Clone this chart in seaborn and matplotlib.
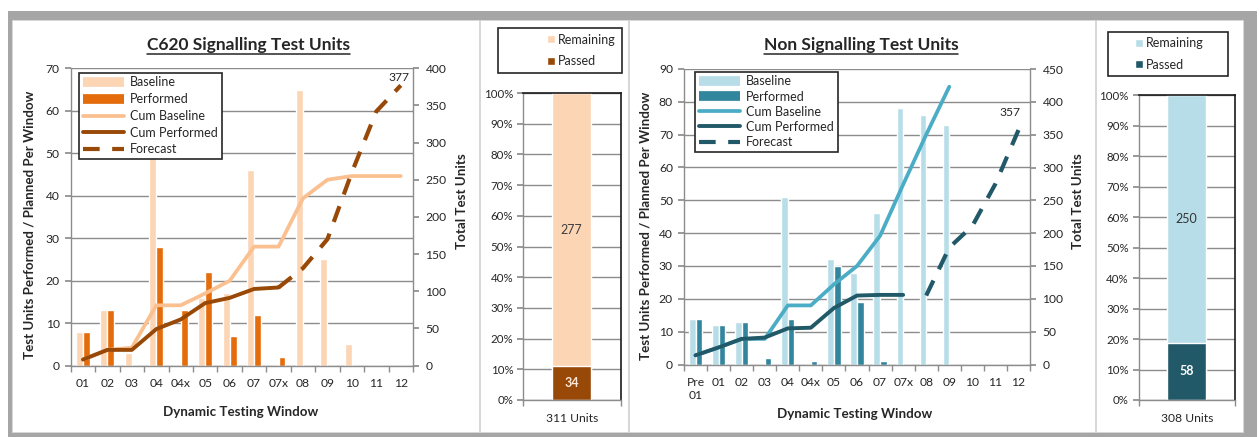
import numpy as np
import pandas as pd
import matplotlib
matplotlib.use("Agg")
import matplotlib.pyplot as plt
import seaborn as sns
from matplotlib.lines import Line2D
from matplotlib.patches import Rectangle, Patch
from matplotlib.ticker import MultipleLocator, PercentFormatter

# ---------------- data ----------------
sig_categories = ["01", "02", "03", "04", "04x", "05", "06", "07", "07x", "08", "09", "10", "11", "12"]
sig_baseline = [8, 13, 3, 57, 0, 16, 17, 46, 0, 65, 25, 5, 0, 0]
sig_performed = [8, 13, 0, 28, 13, 22, 7, 12, 2, 0, 0, 0, 0, 0]
sig_cum_baseline = [8, 21, 24, 81, 81, 97, 114, 160, 160, 225, 250, 255, 255, 255]
sig_cum_performed = [8, 21, 21, 49, 62, 84, 91, 103, 105]
sig_forecast_categories = ["07x", "08", "09", "10", "11", "12"]
sig_forecast = [105, 131, 170, 260, 342, 377]
sig_passed = 34
sig_remaining = 277

ns_categories = ["Pre\n01", "01", "02", "03", "04", "04x", "05", "06", "07", "07x", "08", "09", "10", "11", "12"]
ns_baseline = [14, 12, 13, 0, 51, 0, 32, 28, 46, 78, 76, 73, 0, 0, 0]
ns_performed = [14, 12, 13, 2, 14, 1, 30, 19, 1, 0, 0, 0, 0, 0, 0]
ns_cum_baseline = [14, 26, 39, 39, 90, 90, 122, 150, 196, 274, 350, 423]
ns_cum_performed = [14, 26, 39, 41, 55, 56, 86, 105, 106, 106]
ns_forecast_categories = ["08", "09", "10", "11", "12"]
ns_forecast = [105, 178, 211, 275, 357]
ns_passed = 58
ns_remaining = 250

series_labels = ["Baseline", "Performed", "Cum Baseline", "Cum Performed", "Forecast"]
status_labels = ["Remaining", "Passed"]

# ---------------- style ----------------
sns.set_theme(style="white")
plt.rcParams["font.family"] = ["Lato", "DejaVu Sans"]
TXT = "#262626"
GRID = "#8c8c8c"

W, H = 1260, 437
fig = plt.figure(figsize=(W / 100, H / 100), dpi=100)
fig.patch.set_facecolor("white")


def fbox(l, t, r, b):
    return [l / W, 1 - b / H, (r - l) / W, (b - t) / H]


# background frame and panels
fig.add_artist(Rectangle((8 / W, 0), (1257 - 8) / W, 1 - 11 / H, transform=fig.transFigure,
                         facecolor="#a6a6a6", edgecolor="none", zorder=-5))
for l, r in [(12, 478.5), (480, 627.5), (629, 1094.5), (1096, 1243)]:
    fig.add_artist(Rectangle((l / W, 1 - 432 / H), (r - l) / W, (432 - 20) / H,
                             transform=fig.transFigure, facecolor="white",
                             edgecolor="#d9d9d9", lw=0.6, zorder=-4))


def underlined_title(x, y, s):
    t = fig.text(x / W, 1 - y / H, s, ha="center", va="center", fontsize=12.5,
                 fontweight="bold", color=TXT)
    fig.canvas.draw()
    bb = t.get_window_extent()
    x0, x1 = bb.x0 / W, bb.x1 / W
    yl = (bb.y0 - 1.0) / H
    fig.add_artist(Line2D([x0, x1], [yl, yl], transform=fig.transFigure, color=TXT, lw=1.1))


def main_chart(box, cats, baseline, performed, cum_base, cum_perf, fc_cats, fc_vals,
               cols, ymax_l, ymax_r, leg_anchor, leg_spacing, fc_off):
    c_base, c_perf, c_cbase, c_cperf = cols
    n = len(cats)
    ax = fig.add_axes(fbox(*box))
    df = pd.DataFrame({"Window": cats * 2,
                       "Series": ["Baseline"] * n + ["Performed"] * n,
                       "Units": baseline + performed})
    sns.barplot(data=df, x="Window", y="Units", hue="Series", order=cats,
                hue_order=["Baseline", "Performed"],
                palette={"Baseline": c_base, "Performed": c_perf},
                width=0.57, gap=0, saturation=1, legend=False, errorbar=None, ax=ax)
    ax.set_ylim(0, ymax_l)
    ax.yaxis.set_major_locator(MultipleLocator(10))
    ax.grid(True, axis="y", color=GRID, lw=1)
    ax.grid(False, axis="x")
    ax.set_axisbelow(True)
    ax.set_xlabel("")
    ax.set_ylabel("")
    for s in ["top", "right"]:
        ax.spines[s].set_visible(False)
    for s in ["left", "bottom"]:
        ax.spines[s].set_color(GRID)
        ax.spines[s].set_linewidth(1)

    ax2 = ax.twinx()
    ax2.patch.set_visible(False)
    sns.lineplot(x=np.arange(len(cum_base)), y=cum_base, ax=ax2, color=c_cbase, lw=2.7)
    sns.lineplot(x=np.arange(len(cum_perf)), y=cum_perf, ax=ax2, color=c_cperf, lw=2.8)
    fc_x = [cats.index(c) for c in fc_cats]
    sns.lineplot(x=fc_x, y=fc_vals, ax=ax2, color=c_cperf, lw=3.0)
    ax2.lines[-1].set_linestyle((0, (4, 3)))
    ax2.set_ylim(0, ymax_r)
    ax2.yaxis.set_major_locator(MultipleLocator(50))
    ax2.set_ylabel("")
    ax2.set_xlabel("")
    for s in ["top", "left", "bottom"]:
        ax2.spines[s].set_visible(False)
    ax2.spines["right"].set_color(GRID)
    ax2.spines["right"].set_linewidth(1)
    ax2.tick_params(axis="y", right=True, length=4, direction="out", color=GRID,
                    labelsize=8.7, labelcolor=TXT, pad=5)
    ax2.annotate(str(fc_vals[-1]), xy=(fc_x[-1], fc_vals[-1]), xytext=fc_off,
                 textcoords="offset points", ha="center", va="center",
                 fontsize=8.7, color=TXT)

    ax.set_xlim(-0.5, n - 0.5)
    ax.set_xticks(np.arange(n))
    ax.set_xticklabels(cats)
    ax.set_xticks(np.arange(n + 1) - 0.5, minor=True)
    ax.tick_params(axis="x", which="major", bottom=False, length=0, pad=9,
                   labelsize=8.7, labelcolor=TXT)
    ax.tick_params(axis="x", which="minor", bottom=True, length=4, direction="out",
                   color=GRID)
    ax.tick_params(axis="y", left=True, length=4, direction="out", color=GRID,
                   labelsize=8.7, labelcolor=TXT, pad=4)

    handles = [Line2D([0], [0], color=c_base, lw=7, solid_capstyle="butt"),
               Line2D([0], [0], color=c_perf, lw=7, solid_capstyle="butt"),
               Line2D([0], [0], color=c_cbase, lw=2.7),
               Line2D([0], [0], color=c_cperf, lw=2.8),
               Line2D([0], [0], color=c_cperf, lw=3.0, linestyle=(0, (4, 3)))]
    leg = ax2.legend(handles, series_labels, loc="upper left",
                     bbox_to_anchor=(leg_anchor[0] / W, 1 - leg_anchor[1] / H),
                     bbox_transform=fig.transFigure, frameon=True, fancybox=False,
                     edgecolor=TXT, framealpha=1, facecolor="white", fontsize=9,
                     handlelength=3.3, handletextpad=0.5, labelspacing=leg_spacing,
                     borderpad=0.3, borderaxespad=0)
    leg.get_frame().set_linewidth(1.2)
    for t in leg.get_texts():
        t.set_color(TXT)
    return ax, ax2


def stacked(box, passed, remaining, c_pass, c_rem, leg_box, leg_x, txt_cols):
    total = passed + remaining
    label = f"{total} Units"
    ax = fig.add_axes(fbox(*box))
    sns.barplot(data=pd.DataFrame({"Group": [label], "Share": [100 * total / total]}),
                x="Group", y="Share", color=c_rem, width=0.4, saturation=1,
                errorbar=None, ax=ax)
    sns.barplot(data=pd.DataFrame({"Group": [label], "Share": [100 * passed / total]}),
                x="Group", y="Share", color=c_pass, width=0.4, saturation=1,
                errorbar=None, ax=ax)
    ax.set_ylim(0, 100)
    ax.set_xlim(-0.5, 0.5)
    ax.yaxis.set_major_locator(MultipleLocator(10))
    ax.yaxis.set_major_formatter(PercentFormatter(decimals=0))
    ax.grid(True, axis="y", color=GRID, lw=1)
    ax.set_axisbelow(True)
    ax.set_xlabel("")
    ax.set_ylabel("")
    for s in ["left", "bottom"]:
        ax.spines[s].set_color(GRID)
        ax.spines[s].set_linewidth(1)
    for s in ["top", "right"]:
        ax.spines[s].set_color("#1a1a1a")
        ax.spines[s].set_linewidth(1.2)
    ax.set_xticks([-0.5, 0.5], minor=True)
    ax.tick_params(axis="x", which="major", bottom=False, length=0, pad=9,
                   labelsize=8.7, labelcolor=TXT)
    ax.tick_params(axis="x", which="minor", bottom=True, length=4, direction="out",
                   color=GRID)
    ax.tick_params(axis="y", left=True, length=4, direction="out", color=GRID,
                   labelsize=8.3, labelcolor=TXT, pad=3)
    p_pct = 100 * passed / total
    r_pct = 100 * remaining / total
    ax.text(0, p_pct / 2, str(passed), ha="center", va="center", fontsize=9,
            color=txt_cols[0], fontweight="bold")
    ax.text(0, p_pct + r_pct / 2, str(remaining), ha="center", va="center",
            fontsize=9, color=txt_cols[1])
    # legend frame and entries
    l, t, r, b = leg_box
    fig.add_artist(Rectangle((l / W, 1 - b / H), (r - l) / W, (b - t) / H,
                             transform=fig.transFigure, facecolor="white",
                             edgecolor=TXT, lw=1.2, zorder=-3))
    leg = ax.legend([Patch(facecolor=c_rem), Patch(facecolor=c_pass)],
                    status_labels, loc="center left",
                    bbox_to_anchor=(leg_x / W, 1 - (t + b) / 2 / H),
                    bbox_transform=fig.transFigure, frameon=False,
                    fontsize=9, handlelength=0.6, handleheight=0.6,
                    handletextpad=0.25, labelspacing=0.75, borderpad=0,
                    borderaxespad=0)
    for tx in leg.get_texts():
        tx.set_color(TXT)
    return ax


# ---------------- left: C620 Signalling ----------------
main_chart((70.7, 68.3, 413, 365.5), sig_categories, sig_baseline, sig_performed,
           sig_cum_baseline, sig_cum_performed, sig_forecast_categories, sig_forecast,
           ("#FCD5B5", "#E46C0A", "#FAC090", "#984807"), 70, 400,
           (79, 72.7), 0.38, (-1, 6))
underlined_title(248.5, 45, "C620 Signalling Test Units")
fig.text(30 / W, 1 - 225 / H, "Test Units Performed / Planned Per Window", rotation=90,
         ha="center", va="center", fontsize=9.6, fontweight="bold", color=TXT)
fig.text(462 / W, 1 - 201 / H, "Total Test Units", rotation=90, ha="center",
         va="center", fontsize=9.6, fontweight="bold", color=TXT)
fig.text(241 / W, 1 - 412.5 / H, "Dynamic Testing Window", ha="center", va="center",
         fontsize=9.6, fontweight="bold", color=TXT)

stacked((523, 93, 620.5, 400), sig_passed, sig_remaining, "#984807", "#FCD5B5",
        (498, 28, 622, 73), 547, ("#FDE9D9", "#404040"))

# ---------------- right: Non Signalling ----------------
main_chart((684, 69, 1030, 364.5), ns_categories, ns_baseline, ns_performed,
           ns_cum_baseline, ns_cum_performed, ns_forecast_categories, ns_forecast,
           ("#B7DEE8", "#31859C", "#4BACC6", "#215968"), 90, 450,
           (695, 71.7), 0.25, (-6, 13))
underlined_title(861, 45, "Non Signalling Test Units")
fig.text(645 / W, 1 - 226 / H, "Test Units Performed / Planned Per Window", rotation=90,
         ha="center", va="center", fontsize=9.6, fontweight="bold", color=TXT)
fig.text(1078 / W, 1 - 201.5 / H, "Total Test Units", rotation=90, ha="center",
         va="center", fontsize=9.6, fontweight="bold", color=TXT)
fig.text(855 / W, 1 - 414 / H, "Dynamic Testing Window", ha="center", va="center",
         fontsize=9.6, fontweight="bold", color=TXT)

stacked((1138.5, 95, 1235, 400), ns_passed, ns_remaining, "#215968", "#B7DEE8",
        (1108, 32, 1228, 76), 1135, ("#FFFFFF", "#333333"))

fig.savefig("out.png", dpi=100, facecolor="white")
